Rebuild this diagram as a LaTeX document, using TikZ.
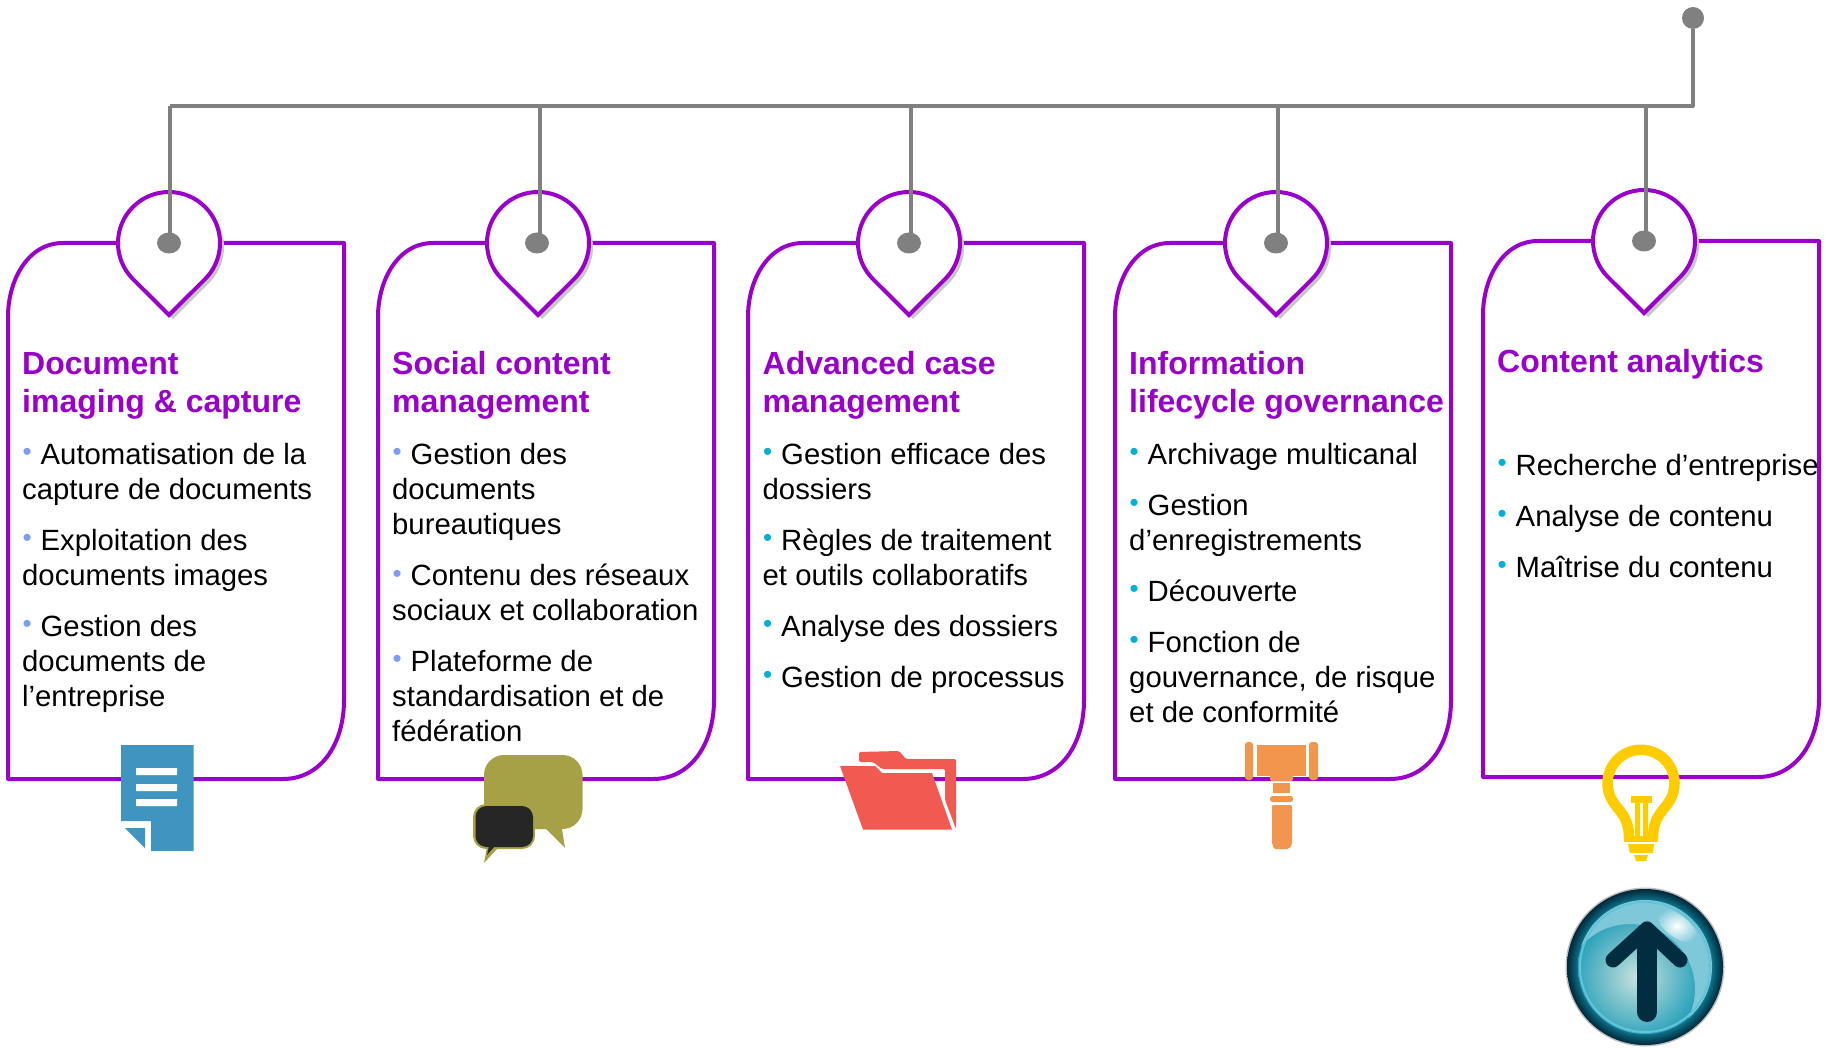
\documentclass[tikz,border=0pt]{standalone}
\usepackage{fontspec}
\setmainfont{Liberation Sans}
\definecolor{pur}{HTML}{9900CC}
\definecolor{gry}{HTML}{808080}
\definecolor{bua}{HTML}{7F9CF5}
\definecolor{bub}{HTML}{00B0D8}
\definecolor{docb}{HTML}{3F95C0}
\definecolor{oliv}{HTML}{A6A046}
\definecolor{chatd}{HTML}{262626}
\definecolor{fold}{HTML}{F05A50}
\definecolor{gav}{HTML}{F2964E}
\definecolor{bulb}{HTML}{FFCC00}
\definecolor{navy}{HTML}{022C40}
\definecolor{glossc}{HTML}{7EC8DA}
\definecolor{rimc}{HTML}{64C3D7}
\definecolor{discin}{HTML}{C8E2DE}
\definecolor{discout}{HTML}{1298B5}
\pgfdeclareradialshading{btnring}{\pgfpoint{0cm}{0cm}}{
  color(0bp)=(discout); color(20bp)=(discout); color(22.5bp)=(black!20!discout!60!navy); color(25bp)=(navy!90!black); color(50bp)=(navy!90!black)}
\newcommand{\bull}[1]{\makebox[18.5pt][l]{\raisebox{3.5pt}{\hspace*{.5pt}\fontsize{26}{26}\selectfont\color{#1}•}}}
\newcommand{\ba}{\bull{bua}}
\newcommand{\bb}{\bull{bub}}
\usetikzlibrary{shapes.geometric}
\tikzset{
  x=1pt,y=1pt,
  cardline/.style={draw=pur,line width=4pt,line join=round},
  pinline/.style={draw=pur,line width=4pt,fill=white,line join=miter},
  pinshadow/.style={fill=black!22,draw=none},
  link/.style={draw=gry,line width=4pt},
  dotn/.style={ellipse,fill=gry,inner sep=0pt,minimum width=24pt,minimum height=21pt},
  rootn/.style={circle,fill=gry,inner sep=0pt,minimum size=22pt},
  ttl/.style={anchor=base west,inner sep=0pt,align=left,text=pur,font=\fontsize{32}{38}\selectfont\bfseries},
  para/.style={anchor=base west,inner sep=0pt,yshift=.7pt,align=left,text=black,font=\fontsize{29.3}{35}\selectfont},
}
\begin{document}
\begin{tikzpicture}
\useasboundingbox (0,0) rectangle (1831,-1048);
% cards and pins
\foreach \cx/\cy/\px in {8/0/169,378/0/538,748/0/909,1115/0/1276,1483/2/1644}{
  \begin{scope}[shift={(\cx,\cy)}]
    \draw[cardline] (336,-243) -- (55,-243) .. controls (20,-243) and (0,-280) .. (0,-317)
      -- (0,-779) -- (275,-779) .. controls (312,-779) and (336,-745) .. (336,-700) -- cycle;
  \end{scope}
  \begin{scope}[shift={(\px,\cy-243)}]
    \fill[pinshadow,shift={(4,-4)}] (0,-72) -- (225.1:51) arc[start angle=225.1,end angle=-45.1,radius=51] -- cycle;
    \draw[pinline] (0,-72) -- (225.1:51) arc[start angle=225.1,end angle=-45.1,radius=51] -- cycle;
  \end{scope}
}
% connectors
\node[rootn] (root) at (1693,-18) {};
\node[dotn] (d1) at (169,-243) {};
\node[dotn] (d2) at (537,-243) {};
\node[dotn] (d3) at (909,-243) {};
\node[dotn] (d4) at (1276,-243) {};
\node[dotn] (d5) at (1644,-241) {};
\coordinate (j0) at (1693,-106);
\coordinate (j1) at (169.5,-106);
\coordinate (j2) at (539.5,-106);
\coordinate (j3) at (911,-106);
\coordinate (j4) at (1277.5,-106);
\coordinate (j5) at (1645.5,-106);
\draw[link,line join=round] (root) -- (j0) -- (j1);
\draw[link] (j1) -- (j1 |- d1);
\draw[link] (j2) -- (j2 |- d2);
\draw[link] (j3) -- (j3 |- d3);
\draw[link] (j4) -- (j4 |- d4);
\draw[link] (j5) -- (j5 |- d5);
% titles
\node[ttl] (t1) at (22,-412) {Document\\imaging \& capture};
\node[ttl] (t2) at (392,-412) {Social content\\management};
\node[ttl] (t3) at (762.5,-412) {Advanced case\\management};
\node[ttl] (t4) at (1129,-412) {Information\\lifecycle governance};
\node[ttl] (t5) at (1497,-373) {Content analytics};
% card 1
\node[para] (a1) at (22,-500) {\ba Automatisation de la\\capture de documents};
\node[para] (a2) at (22,-586) {\ba Exploitation des\\documents images};
\node[para] (a3) at (22,-707) {\ba Gestion des\\documents de\\l’entreprise};
% card 2
\node[para] (b1) at (392,-535) {\ba Gestion des\\documents\\bureautiques};
\node[para] (b2) at (392,-621.5) {\ba Contenu des réseaux\\sociaux et collaboration};
\node[para] (b3) at (392,-742) {\ba Plateforme de\\standardisation et de\\fédération};
% card 3
\node[para] (c1) at (762.5,-500) {\bb Gestion efficace des\\dossiers};
\node[para] (c2) at (762.5,-586) {\bb Règles de traitement\\et outils collaboratifs};
\node[para] (c3) at (762.5,-637) {\bb Analyse des dossiers};
\node[para] (c4) at (762.5,-688) {\bb Gestion de processus};
% card 4
\node[para] (e1) at (1129,-465) {\bb Archivage multicanal};
\node[para] (e2) at (1129,-551) {\bb Gestion\\d’enregistrements};
\node[para] (e3) at (1129,-602) {\bb Découverte};
\node[para] (e4) at (1129,-723) {\bb Fonction de\\gouvernance, de risque\\et de conformité};
% card 5
\node[para] (f1) at (1497,-476) {\bb Recherche d’entreprise};
\node[para] (f2) at (1497,-527) {\bb Analyse de contenu};
\node[para] (f3) at (1497,-578) {\bb Maîtrise du contenu};
% document icon
\fill[docb] (121,-745) -- (193.5,-745) -- (193.5,-851) -- (151,-851) -- (151,-821) -- (121,-821) -- cycle;
\fill[docb] (125,-828) -- (145,-828) -- (145,-848) -- cycle;
\fill[white] (136,-768) rectangle (177,-775) (136,-784) rectangle (177,-791) (136,-799) rectangle (177,-806);
% chat icon
\fill[oliv,rounded corners=20pt] (484,-755) rectangle (582.5,-829);
\fill[oliv] (543,-826) -- (565,-848) -- (561.5,-826) -- cycle;
\fill[oliv] (487,-847) -- (484,-863) -- (498,-848) -- cycle;
\fill[oliv,rounded corners=13pt] (473,-804) rectangle (535,-849);
\fill[chatd,rounded corners=11pt] (475.5,-806) rectangle (533,-847);
\fill[chatd] (489,-846) -- (487,-855) -- (495,-846) -- cycle;
% folder icon
\fill[fold,rounded corners=1.5pt] (859,-762) -- (859,-752) -- (899,-751) -- (906,-759) -- (956,-759) -- (956,-829) -- (945,-800) -- (945,-769) -- (882,-769) -- (873,-762) -- cycle;
\fill[fold] (840,-766) -- (875,-766) -- (882,-773) -- (932,-773) -- (952,-829.5) -- (863,-829.5) -- cycle;
% gavel icon
\fill[gav,rounded corners=3pt] (1245,-742) rectangle (1253,-780);
\fill[gav,rounded corners=3pt] (1309,-742) rectangle (1318,-780);
\fill[gav] (1257,-745) rectangle (1306,-776);
\fill[gav,rounded corners=2pt] (1270,-770) rectangle (1293,-781);
\fill[gav] (1273,-783) rectangle (1290,-793);
\fill[gav,rounded corners=2.5pt] (1270,-796) rectangle (1293,-802);
\fill[gav] (1272,-807) [rounded corners=2pt] -- (1272,-805) -- (1292,-805) -- (1292,-845) -- (1289,-849) [sharp corners] -- (1275,-849) [rounded corners=2pt] -- (1272,-845) -- cycle;
% bulb icon
\draw[bulb,line width=10.5pt] (1629,-838) .. controls (1629,-815) and (1617,-810) .. (1612,-800)
  arc[start angle=210,end angle=-30,radius=33.5] .. controls (1665,-810) and (1653,-815) .. (1653,-838);
\fill[bulb] (1624,-836) rectangle (1658,-842);
\fill[bulb] (1631,-796) rectangle (1652,-803);
\fill[bulb] (1635,-803) rectangle (1640,-836);
\fill[bulb] (1643,-803) rectangle (1648,-836);
\fill[bulb] (1628,-844) -- (1654,-844) -- (1653,-853) -- (1630,-853) -- cycle;
\fill[bulb] (1634,-855) -- (1648,-855) -- (1646,-861) -- (1636,-861) -- cycle;
% button icon
\fill[black!25] (1645,-967) circle[radius=79.5];
\shade[shading=btnring] (1645,-967) circle[radius=78];
\begin{scope}
  \clip (1645,-967) circle[radius=67];
  \shade[inner color=discin,outer color=discout] (1637,-977) circle[radius=72];
  \fill[even odd rule,glossc] (1645,-967) circle[radius=68] (1630,-989) circle[radius=65];
  \shade[inner color=white,outer color=glossc,rotate around={-37:(1677,-926)}] (1677,-926) ellipse[x radius=24,y radius=11];
  \draw[line width=2pt,rimc] (1645,-967) circle[radius=65];
\end{scope}
\fill[black!50,opacity=.6,rounded corners=6pt] (1680,-956) -- (1647,-918) -- (1613,-956) -- (1647,-934) -- cycle;
\draw[navy,line width=20pt,line cap=round] (1647,-1012) -- (1647,-944);
\draw[navy,line width=15pt,line cap=round,line join=round] (1613,-960) -- (1647,-929) -- (1680,-960);
\end{tikzpicture}
\end{document}
